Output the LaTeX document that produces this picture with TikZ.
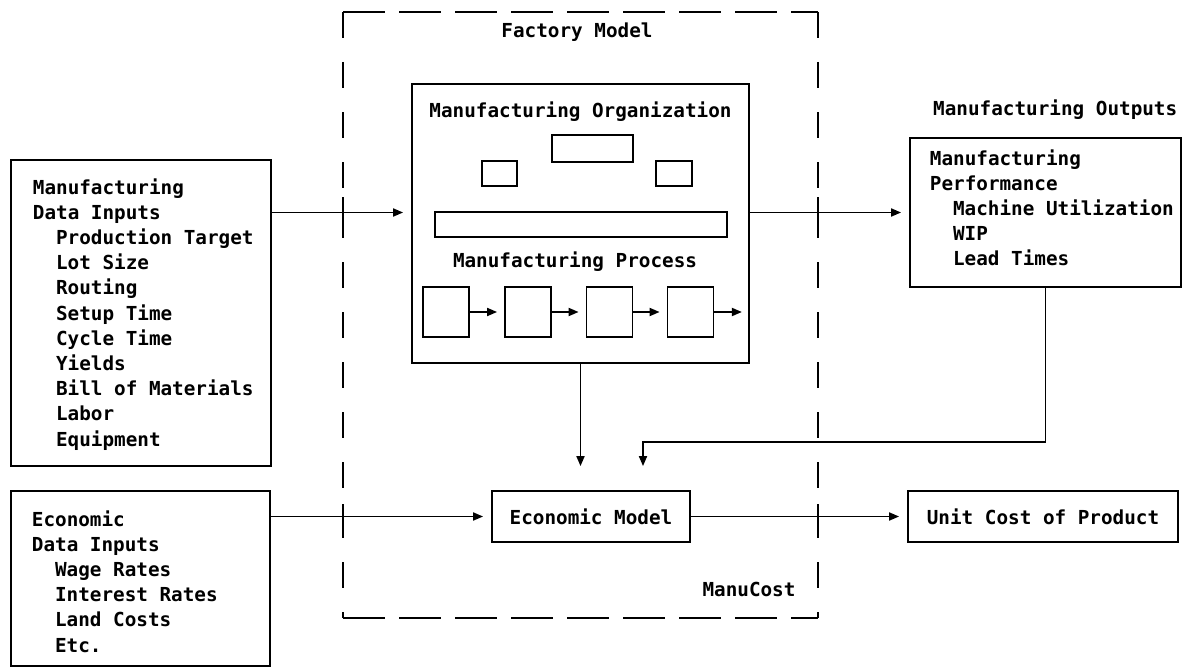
\documentclass[tikz,border=0pt]{standalone}
\usepackage{fontspec}
\newfontfamily\plotter{DejaVu Sans Mono}
\usetikzlibrary{arrows.meta}
\newcommand{\ind}{\hspace*{1.2em}}
\begin{document}
\begin{tikzpicture}[x=1pt,y=-1pt,line width=1.8pt,
  every node/.style={font=\plotter\bfseries\fontsize{19.3}{25.2}\selectfont},
  blk/.style={draw,inner sep=0pt},
  lst/.style={align=left,inner sep=0pt,anchor=north west},
  flow/.style={-{Triangle[length=10pt,width=8pt]},shorten >=8pt}]
\useasboundingbox (0,0) rectangle (1183,669);
% ManuCost frame
\coordinate (fnw) at (343,12); \coordinate (fne) at (818,12); \coordinate (fsw) at (343,618); \coordinate (fse) at (818,618);
\draw[dash pattern=on 42pt off 14pt] (fnw)--(fne); \draw[dash pattern=on 42pt off 14pt] (fsw)--(fse);
\draw[dash pattern=on 26pt off 24pt] (fnw)--(fsw); \draw[dash pattern=on 26pt off 24pt] (fne)--(fse);
\foreach \y in {210,517} {\draw (343,\y-13)--(343,\y+13); \draw (818,\y-13)--(818,\y+13);}
\node[anchor=base] (fmtitle) at (577,38) {Factory Model};
\node[anchor=base] (mctitle) at (749,596) {ManuCost};
% factory model
\node[blk,minimum width=337,minimum height=279] (org) at (580.5,223.5) {};
\node[anchor=base] (orgtitle) at (580.5,117) {Manufacturing Organization};
\node[blk,minimum width=81,minimum height=27] (top) at (592.5,148.5) {};
\node[blk,minimum width=35,minimum height=25] (lft) at (499.5,173.5) {};
\node[blk,minimum width=36,minimum height=25] (rgt) at (674,173.5) {};
\node[blk,minimum width=292,minimum height=25] (bar) at (581,224.5) {};
\node[anchor=base] (proctitle) at (575,267) {Manufacturing Process};
\foreach \i/\x in {1/446,2/528,3/609.5,4/690.5} \node[blk,minimum width=46,minimum height=50] (p\i) at (\x,312) {};
\foreach \i/\j in {1/2,2/3,3/4} \draw[flow,shorten >=7pt] (p\i) -- (p\j);
\draw[flow] (p4.east) -- (p4.east -| org.east);
% inputs and outputs
\node[blk,minimum width=260,minimum height=306] (mfgin) at (141,313) {};
\node[lst] (mfgtxt) at (32,177.5) {Manufacturing\\Data Inputs\\\ind Production Target\\\ind Lot Size\\\ind Routing\\\ind Setup Time\\\ind Cycle Time\\\ind Yields\\\ind Bill of Materials\\\ind Labor\\\ind Equipment};
\node[blk,minimum width=259,minimum height=175] (ecoin) at (140.5,578.5) {};
\node[lst] (ecotxt) at (31,509.5) {Economic\\Data Inputs\\\ind Wage Rates\\\ind Interest Rates\\\ind Land Costs\\\ind Etc.};
\node[anchor=base west] (outtitle) at (929,115) {Manufacturing Outputs};
\node[blk,minimum width=271,minimum height=149] (perf) at (1045.5,212.5) {};
\node[lst] (perftxt) at (929,148.5) {Manufacturing\\Performance\\\ind Machine Utilization\\\ind WIP\\\ind Lead Times};
\node[blk,minimum width=198,minimum height=51] (econ) at (591,516.5) {Economic Model};
\node[blk,minimum width=270,minimum height=51] (unit) at (1043,516.5) {Unit Cost of Product};
% connectors
\draw[flow] (mfgin.east |- perf.west) -- (org.west |- perf.west);
\draw[flow] (org.east |- perf.west) -- (perf.west);
\draw[flow] (ecoin.east |- econ.west) -- (econ.west);
\draw[flow] (econ) -- (unit);
\coordinate (turn) at (643,442);
\draw[flow,shorten >=24pt] (org.south) -- (org.south |- econ.north);
\draw[flow,shorten >=24pt] (perf.south) |- (turn) -- (turn |- econ.north);
\end{tikzpicture}
\end{document}
